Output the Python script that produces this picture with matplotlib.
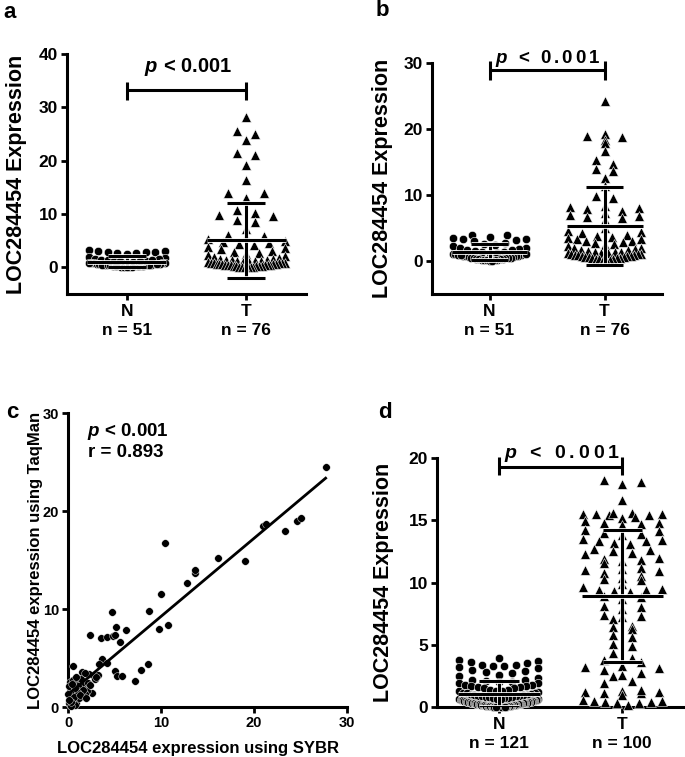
import numpy as np
import matplotlib
matplotlib.use("Agg")
import matplotlib.pyplot as plt
import matplotlib.patheffects as pe
from matplotlib.transforms import offset_copy

plt.rcParams['font.family'] = ['Liberation Sans', 'DejaVu Sans']
plt.rcParams['font.weight'] = 'bold'
plt.rcParams['axes.labelweight'] = 'bold'

# ---------------- data ----------------
groups = ["N", "T"]

a_N = [3.2, 3.0, 2.8, 2.7, 2.9, 2.6, 3.1, 2.5, 2.8,
       2.0, 1.8, 1.6, 1.5, 1.4, 1.3, 1.2, 1.2, 1.1, 1.0, 1.0, 0.9, 0.9, 0.8, 0.8,
       0.7, 0.7, 0.6, 0.6, 0.5, 0.5, 0.5, 0.4, 0.4, 0.4, 0.3, 0.3, 0.3, 0.2, 0.2,
       0.2, 0.15, 0.1, 0.1, 0.1, 0.05, 0.9, 1.1, 1.3, 0.6, 0.35, 0.25]
a_T = [28.2, 25.5, 25.0, 23.8, 21.4, 21.1, 19.2, 16.3, 14.0, 13.9, 13.0, 10.8,
       10.2, 9.9, 9.6, 8.8, 8.5, 7.1,
       6.0, 5.8, 5.6, 5.3, 5.0, 4.8, 4.5, 4.3, 4.1, 3.9, 3.6, 3.4, 3.1, 2.9, 2.7,
       2.5, 2.3, 2.1, 2.0, 1.8,
       1.6, 1.5, 1.4, 1.4, 1.3, 1.2, 1.2, 1.1, 1.0, 1.0, 0.95, 0.9, 0.85, 0.8,
       0.8, 0.75, 0.7, 0.65, 0.6, 0.6, 0.55, 0.5, 0.5, 0.45, 0.4, 0.4, 0.35, 0.3,
       0.3, 0.25, 0.2, 0.2, 0.15, 0.15, 0.1, 0.1, 0.05, 0.05]

b_N = [4.0, 3.9, 3.6, 3.5, 3.4, 3.3, 3.2, 3.0, 2.8, 2.6, 2.4, 2.2, 2.0, 1.9, 1.8,
       1.7, 1.6, 1.5, 1.4, 1.3, 1.2, 1.2, 1.1, 1.0, 1.0, 0.9, 0.9, 0.8, 0.8, 0.7,
       0.7, 0.6, 0.6, 0.5, 0.5, 0.45, 0.4, 0.4, 0.35, 0.3, 0.3, 0.25, 0.2, 0.2,
       0.15, 0.1, 0.1, 0.05, 0.05, 1.05, 0.85]
b_T = [24.3, 19.2, 18.9, 18.8, 18.4, 17.9, 16.7, 15.3, 14.7, 13.9, 13.7, 12.6,
       11.4, 9.8, 9.6, 8.4, 8.2, 8.0, 7.9, 7.6, 7.3, 7.0, 6.8, 6.6, 6.5, 6.2,
       5.0, 4.6, 4.4, 4.2, 4.0, 3.8, 3.6, 3.5, 3.4, 3.3, 3.1, 3.0, 2.9, 2.8, 2.6,
       2.4, 2.2, 2.0, 1.9, 1.8, 1.7, 1.6, 1.5, 1.4, 1.35, 1.3, 1.25, 1.2, 1.15,
       1.1, 1.05, 1.0, 0.95, 0.9, 0.85, 0.8, 0.75, 0.7, 0.65, 0.6, 0.55, 0.5,
       0.45, 0.4, 0.35, 0.3, 0.25, 0.2, 0.15, 0.1]

c_sybr = [27.7, 21.0, 21.3, 23.3, 24.6, 25.1, 10.4, 16.1, 19.0, 13.6, 13.7, 12.8,
          10.0, 8.7, 9.8, 10.7, 4.7, 2.4, 3.5, 4.2, 4.8, 5.0, 5.2, 6.2, 5.6, 3.7,
          3.3, 4.2, 5.1, 5.3, 5.8, 8.6, 7.8, 7.2, 2.3, 2.8, 3.2, 2.6, 1.5, 0.5,
          1.7, 2.0, 1.8, 1.4, 0.9, 0.2, 0.5, 1.1, 0.35, 0.7, 0.2, 0.5, 0.9, 0.25,
          0.05, 1.2, 1.6, 0.1, 1.05, 0.7, 0.1, 1.4, 0.9, 0.35, 2.1, 1.8,
          0.6, 0.3, 1.3, 0.8, 0.15, 2.4, 2.9, 3.0, 0.45, 1.9]
c_taqman = [24.5, 18.5, 18.7, 18.0, 19.0, 19.3, 16.7, 15.2, 14.9, 13.7, 14.0, 12.7,
            11.5, 9.8, 8.0, 8.4, 9.7, 7.3, 7.0, 7.1, 7.2, 7.4, 8.2, 7.9, 6.6, 4.9,
            4.4, 4.5, 3.7, 3.2, 3.2, 4.4, 3.8, 2.7, 3.4, 3.2, 3.3, 1.4, 3.6, 4.2,
            1.8, 1.6, 1.3, 2.3, 2.6, 2.6, 2.8, 2.1, 1.8, 1.3, 0.9, 0.6, 0.4, 0.25,
            1.3, 0.9, 1.7, 2.1, 1.45, 0.2, 0.4, 2.9, 3.1, 0.15, 2.5, 3.5,
            1.0, 0.5, 1.2, 1.9, 0.7, 2.2, 2.9, 3.1, 2.3, 0.9]

d_N = [3.9, 3.8, 3.7, 3.6, 3.5, 3.4, 3.4, 3.3, 3.3, 3.2, 3.1, 3.0, 2.9, 2.8, 2.7,
       2.6, 2.5,
       2.3, 2.2, 2.2, 2.1, 2.0, 2.0, 1.9, 1.9, 1.8, 1.8, 1.7, 1.7, 1.6, 1.6, 1.5,
       1.5, 1.4, 1.4, 1.3, 1.3,
       1.25, 1.2, 1.15, 1.1, 1.1, 1.05, 1.0, 1.0, 0.98, 0.95, 0.92, 0.9, 0.88,
       0.85, 0.82, 0.8, 0.78, 0.75, 0.72, 0.7,
       0.68, 0.66, 0.64, 0.62, 0.6, 0.58, 0.56, 0.55, 0.53, 0.52, 0.5, 0.48, 0.47,
       0.45, 0.44, 0.42, 0.41, 0.4, 0.38, 0.37,
       0.36, 0.35, 0.34, 0.33, 0.32, 0.31, 0.3, 0.29, 0.28, 0.27, 0.26, 0.25, 0.24,
       0.23, 0.22, 0.21, 0.2, 0.19, 0.18, 0.17,
       0.16, 0.15, 0.14, 0.13, 0.12, 0.11, 0.1, 0.09, 0.08, 0.07, 0.06, 0.05, 0.05,
       0.04, 0.04, 0.03, 0.03, 0.02, 0.02, 0.01,
       0.01, 0.01, 0.02, 0.03]
d_T = [18.1, 17.9, 18.2, 16.6,
       15.6, 15.5, 15.4, 15.5, 15.3, 15.4, 15.6, 15.2, 15.5,
       14.9, 14.7, 14.8, 14.6, 14.8,
       14.1, 13.9, 14.0, 14.2, 13.8,
       13.4, 13.2, 13.3, 13.5, 13.1, 13.3,
       12.7, 12.5, 12.4, 12.6, 12.3, 12.0,
       11.9, 11.7, 11.8, 11.6,
       11.1, 10.9, 11.0, 11.2, 10.8,
       10.5, 10.3, 10.4, 10.2, 9.9,
       9.5, 9.4, 9.3, 9.4, 9.6, 9.2,
       8.9, 8.7, 8.8,
       8.1, 7.9, 8.0,
       7.3, 7.1, 7.2, 7.4,
       6.5, 6.3, 6.4,
       5.8, 5.6,
       5.1, 4.9, 4.3,
       3.8, 3.6, 3.9,
       3.2, 3.0, 3.1, 3.3,
       2.7, 2.5, 2.6,
       2.1, 1.9,
       1.3, 1.1, 1.2, 1.4, 1.0, 1.2, 1.1,
       0.5, 0.3, 0.4, 0.2, 0.6, 0.4, 0.3, 0.5]

n_labels_ab = ["n = 51", "n = 76"]
n_labels_d = ["n = 121", "n = 100"]
ylab = "LOC284454 Expression"

# ---------------- helpers ----------------
fig = plt.figure(figsize=(6.85, 7.57), dpi=100)


def swarm_x(values, center, h, origin, step, half_width):
    v = np.asarray(values, dtype=float)
    x = np.full(v.shape, float(center))
    bins = np.floor((v - origin) / h).astype(int)
    for b in np.unique(bins):
        idx = np.where(bins == b)[0]
        idx = idx[np.argsort(v[idx], kind="stable")]
        n = len(idx)
        sp = step if n <= 1 else min(step, 2 * half_width / (n - 1))
        for k, i in enumerate(idx):
            if n % 2 == 1:
                pos = ((k + 1) // 2) * (1 if k % 2 == 1 else -1)
            else:
                pos = (k // 2 + 0.5) * (1 if k % 2 == 0 else -1)
            x[i] = center + pos * sp
    return x


def style(ax, fs):
    for s in ["top", "right"]:
        ax.spines[s].set_visible(False)
    for s in ["left", "bottom"]:
        ax.spines[s].set_linewidth(2.2)
    ax.tick_params(width=2.0, length=4, labelsize=fs, pad=2.5, direction="out")


halo = [pe.Stroke(linewidth=3.4, foreground="white"), pe.Normal()]


def mean_sd(ax, vals, c):
    m = np.mean(vals)
    sd = np.std(vals, ddof=1)
    kw = dict(color="black", lw=2.2, zorder=5, path_effects=halo, solid_capstyle="butt")
    ax.plot([c, c], [m - sd, m + sd], **kw)
    ax.plot([c - 0.33, c + 0.33], [m, m], **kw)
    ax.plot([c - 0.16, c + 0.16], [m - sd, m - sd], **kw)
    ax.plot([c - 0.16, c + 0.16], [m + sd, m + sd], **kw)


PT_W = {"p": 0.611, " ": 0.278, "<": 0.584, "0": 0.556, ".": 0.278, "1": 0.556}


def ptext(ax, x, y, fs, track_px=0.0, align="center"):
    chars = list("p < 0.001")
    track = track_px * 0.72
    widths = [PT_W[ch] * fs for ch in chars]
    total = sum(widths) + track * (len(chars) - 1)
    start = -total / 2 if align == "center" else 0.0
    pos = start
    for ch, w in zip(chars, widths):
        if ch != " ":
            tr = offset_copy(ax.transData, fig=fig, x=pos + w / 2, y=-0.36 * fs, units="points")
            ax.text(x, y, ch, transform=tr, ha="center", va="baseline", fontsize=fs,
                    fontweight="bold", style="italic" if ch == "p" else "normal",
                    clip_on=False)
        pos += w + track


def dot_panel(ax, dataN, dataT, h, origin, step, nlabels):
    xN = swarm_x(dataN, 0, h, origin, step, 0.32)
    xT = swarm_x(dataT, 1, h, origin, step, 0.32)
    ax.scatter(xN, dataN, s=36, marker="o", color="black", edgecolors="white",
               linewidths=0.4, zorder=3, clip_on=False)
    ax.scatter(xT, dataT, s=50, marker="^", color="black", edgecolors="white",
               linewidths=0.4, zorder=3, clip_on=False)
    mean_sd(ax, dataN, 0)
    mean_sd(ax, dataT, 1)
    ax.set_xlim(-0.5, 1.5)
    ax.set_xticks([0, 1])
    ax.set_xticklabels([g + "\n" + n for g, n in zip(groups, nlabels)], linespacing=1.3)
    style(ax, 12.5)
    ax.tick_params(axis="x", pad=3.5)


def bracket(ax, y, y0, y1):
    kw = dict(color="black", lw=2.2, clip_on=False, solid_capstyle="butt")
    ax.plot([0, 1], [y, y], **kw)
    ax.plot([0, 0], [y0, y1], **kw)
    ax.plot([1, 1], [y0, y1], **kw)


# ---------------- panel a ----------------
ax = fig.add_axes([0.0978, 0.6116, 0.349, 0.317])
dot_panel(ax, a_N, a_T, 1.5, -0.5, 0.15, n_labels_ab)
ax.set_ylim(-5, 40)
ax.set_yticks([0, 10, 20, 30, 40])
bracket(ax, 33.2, 31.4, 34.8)
ptext(ax, 0.51, 37.9, 14.5)
ax.set_ylabel(ylab, fontsize=15.5, va="center")
ax.yaxis.set_label_coords(-0.21, 0.5)

# ---------------- panel b ----------------
ax = fig.add_axes([0.6307, 0.6116, 0.3358, 0.3052])
dot_panel(ax, b_N, b_T, 1.2, 0.0, 0.15, n_labels_ab)
ax.set_ylim(-5, 30)
ax.set_yticks([0, 10, 20, 30])
bracket(ax, 28.9, 27.4, 30.3)
ptext(ax, 0.5, 30.95, 13.5, track_px=3.0)
ax.set_ylabel(ylab, fontsize=15.5, va="center")
ax.yaxis.set_label_coords(-0.217, 0.5)

# ---------------- panel c ----------------
ax = fig.add_axes([0.0993, 0.066, 0.4073, 0.3884])
sx = np.array(c_sybr)
ty = np.array(c_taqman)
ax.scatter(sx, ty, s=30, marker="o", color="black", edgecolors="white",
           linewidths=0.3, zorder=3, clip_on=False)
k, b0 = np.polyfit(sx, ty, 1)
xx = np.array([sx.min(), sx.max()])
ax.plot(xx, k * xx + b0, color="black", lw=2.0, zorder=4)
ax.set_xlim(0, 30)
ax.set_ylim(0, 30)
ax.set_xticks([0, 10, 20, 30])
ax.set_yticks([0, 10, 20, 30])
style(ax, 10.5)
ptext(ax, 2.1, 28.3, 13.5, align="left")
ax.text(2.1, 26.0, "r = 0.893", fontsize=13.5, fontweight="bold", ha="left", va="center")
ax.set_ylabel("LOC284454 expression using TaqMan", fontsize=12, va="center")
ax.yaxis.set_label_coords(-0.115, 0.5)
ax.set_xlabel("LOC284454 expression using SYBR", fontsize=12, va="center")
ax.xaxis.set_label_coords(0.465, -0.14)

# ---------------- panel d ----------------
ax = fig.add_axes([0.638, 0.066, 0.3606, 0.329])
dot_panel(ax, d_N, d_T, 0.65, 0.0, 0.15, n_labels_d)
ax.set_ylim(0, 20)
ax.set_yticks([0, 5, 10, 15, 20])
bracket(ax, 19.3, 18.6, 20.1)
ptext(ax, 0.508, 20.55, 14, track_px=4.0)
ax.set_ylabel(ylab, fontsize=15.5, va="center")
ax.yaxis.set_label_coords(-0.215, 0.5)

# ---------------- panel letters ----------------
for lab, (px, py) in {"a": (10, 12), "b": (382, 10), "c": (12, 413), "d": (385, 412)}.items():
    fig.text(px / 685, 1 - py / 757, lab, fontsize=16, fontweight="bold", ha="center", va="center")

fig.savefig("out.png", dpi=100)
